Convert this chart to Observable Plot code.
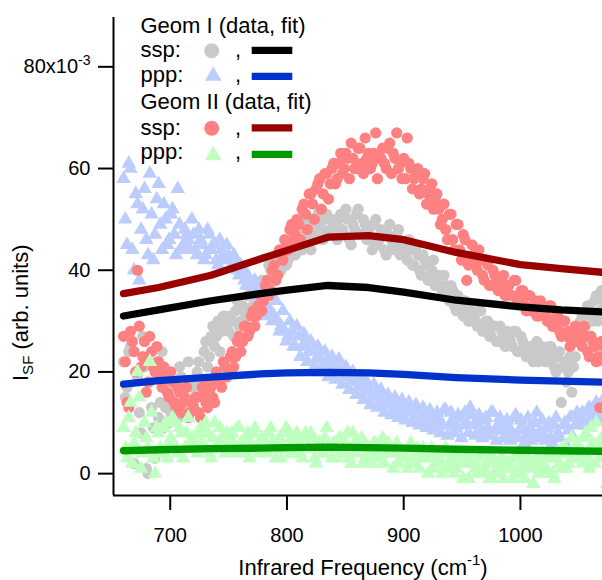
<!DOCTYPE html>
<html><head><meta charset="utf-8">
<script src="https://cdn.jsdelivr.net/npm/d3@7"></script>
<script src="https://cdn.jsdelivr.net/npm/@observablehq/plot@0.6"></script>
<style>html,body{margin:0;padding:0;background:#fff}#chart svg{display:block}</style>
</head><body><div id="chart"></div>
<script>
// Infrared frequency grids (cm^-1) of the two interleaved scans
const scanA = {start: 660, step: 3, count: 140};
const scanB = {start: 661.5, step: 3, count: 140};

// Geom I ssp data (x10^-3), scan A and scan B
const geom1sspA = [
 22,17,25,2,19,8,21,0,13,3,
 11,24,13,10,15,12,21,14,17,13,
 14,20,18,24,21,27,25,30,28,31,
 28,30,32,29,33,31,35,33,37,35,
 38,36,40,39,42,40,44,42,45,43,
 46,44,48,46,50,47,49,46,51,48,
 49,46,51,47,50,45,48,52,47,49,
 48,44,50,46,47,43,49,45,47,43,
 45,42,44,41,43,39,42,38,40,37,
 39,36,37,34,36,32,34,31,33,30,
 31,29,32,28,30,27,29,26,28,25,
 27,25,28,24,26,23,25,22,26,23,
 24,22,25,21,23,14,22,20,16,23,
 27,31,29,33,30,35,32,34,31,33];
const geom1sspB = [
 15,24,5,20,12,27,1,18,9,22,
 14,9,18,12,16,11,19,15,22,17,
 17,22,16,26,23,29,27,24,31,29,
 31,27,34,30,32,35,32,36,34,38,
 36,41,38,42,41,44,41,46,44,47,
 45,49,47,44,49,51,48,50,47,50,
 47,50,48,52,46,49,51,47,50,46,
 46,49,45,48,44,47,46,44,48,45,
 43,46,41,44,40,43,41,39,42,39,
 37,39,35,37,33,35,32,34,30,32,
 30,32,28,30,27,29,26,29,27,28,
 26,28,24,27,24,25,23,24,22,25,
 22,25,23,20,24,21,18,23,21,26,
 30,28,33,31,34,30,36,33,35,32];
// Geom I ppp data
const geom1pppA = [
 58,45,60,40,53,48,56,43,51,47,
 57,44,50,46,52,43,49,45,47,44,
 47,43,46,42,48,44,45,41,44,42,
 43,41,42,39,40,37,38,36,37,34,
 35,33,32,31,30,29,28,27,28,25,
 27,25,25.5,24,24,22.5,23,21.5,22,20.5,
 21.5,20,20.5,19,19.5,18,18.5,17,17.5,16,
 16.5,15,15.5,14,15,13.5,14,12.5,14,12.5,
 13,12,12.5,11,12.5,11,12,10.5,11.5,10,
 11,9.5,12.5,9.5,10.5,9,11,9.5,10,13,
 9.5,10,8.5,10.5,9,12,8.5,9.5,8.5,10,
 9,8,11.5,8.5,9,7.5,9,8,12,8.5,
 8,9,7,9.5,8,4.5,10,8.5,11,9.5,
 10,12,9.5,13,11,14,10.5,13,12,15];
const geom1pppB = [
 50,61,44,55,38,52,46,59,42,54,
 49,53,45,51,47,56,44,48,46,50,
 44,48,45,43,47,45,42,46,43,45,
 42,43,40,41,38,39,37,38,35,36,
 31,36,30,34,28,32,26,30,25,29,
 23,27.5,22,26,21,25,20,24,19,23,
 18.5,22.5,17.5,21,16.5,20,15.5,19,14.5,18,
 13.5,17.5,13,16.5,12,15.5,11.5,15,11,14.5,
 10.5,14,10,13.5,9.5,13,9,12.5,8.5,12,
 8,12.5,7.5,12,8,11.5,7,12,8,11.5,
 7.5,11.5,7,11,7.5,12,6.5,11,7,10.5,
 6.5,11,7,10.5,6,11,6.5,10,7,10.5,
 6.5,10,6,11,7,9.5,5.5,11,7,12,
 11,10,12.5,11,13,12,14,11.5,13,12];
// Geom II ssp data
const geom2sspA = [
 27,14,28,24,40,21,26,18,24,20,
 22,17,19,15,18,13,16,14,17,12,
 13,15,11,16,13,17,14,19,17,21,
 20,24,23,27,26,29,28,32,31,35,
 34,38,36,41,39,43,46,44,49,47,
 49,52,51,55,53,56,58,55,59,57,
 61,58,63,60,62,65,60,64,61,66,
 63,61,67,62,64,60,65,63,67,61,
 62,66,60,58,60,56,59,55,57,54,
 52,50,48,51,46,49,44,47,38,42,
 43,40,42,38,41,37,39,36,38,35,
 37,35,38,34,36,32,35,33,31,34,
 32,30,33,29,31,27,30,28,26,29,
 28,25,27,23,26,22,13,25,24,21];
const geom2sspB = [
 22,13,26,20,29,23,16,27,21,25,
 19,21,16,20,14,17,12,15,11,14,
 15,12,17,14,18,15,20,18,22,19,
 23,21,26,24,29,27,31,29,33,32,
 37,35,40,38,44,42,45,48,46,50,
 46,53,48,55,50,57,52,59,54,60,
 57,61,59,63,58,62,60,64,59,62,
 60,63,58,62,61,64,59,62,60,58,
 58,61,56,59,55,58,53,56,52,55,
 49,53,46,51,44,49,42,46,41,45,
 41,44,39,42,37,40,38,36,39,37,
 35,38,34,36,33,35,32,34,31,33,
 31,33,29,31,28,30,27,25,28,26,
 26,29,24,27,25,23,26,22,25,20];
// Geom II ppp data
const geom2pppA = [
 9,3,14,6,20,1,10,5,12,0,
 8,4,10,6,11,5,9,3,8,6,
 7,4,9,5,8,3,10,6,7,4,
 6,8,4,9,5,7,3,8,5,6,
 7,4,9,5,6,3,8,5,7,4,
 6,3,8,5,7,2,6,4,9,5,
 6,3,7,4,8,2,6,5,7,3,
 5,2,6,3,7,4,5,1,6,3,
 4,1,6,2,5,3,4,0,5,2,
 3,0,5,2,4,1,3,-1,4,2,
 2,0,4,1,3,-1,2,0,3,1,
 2,-1,3,0,4,1,2,-2,3,1,
 2,0,3,-1,4,1,5,2,7,3,
 5,2,8,1,6,10,3,7,-2,5];
const geom2pppB = [
 5,11,2,8,15,4,7,22,3,9,
 5,9,3,7,10,4,8,5,11,7,
 5,8,6,10,4,7,5,9,6,8,
 7,5,9,6,4,8,6,9,4,7,
 5,8,6,3,7,5,9,4,6,8,
 4,7,5,8,3,6,4,7,5,3,
 5,7,4,6,3,8,4,6,2,5,
 4,6,3,5,2,6,4,5,2,4,
 3,5,2,4,1,5,3,4,1,3,
 2,4,1,3,0,4,2,3,-1,3,
 1,3,0,2,-1,3,1,2,-1,2,
 1,3,0,2,-1,3,1,2,0,4,
 1,3,0,4,2,5,1,4,3,6,
 4,7,3,9,2,6,4,8,5,3];

// Fits
const fitFreq     = [660, 690, 735, 777, 800, 835, 870, 900, 945, 1000, 1035, 1070, 1085];
const fitGeom1ssp = [31.0,32.2,34.0,35.4,36.1,37.0,36.6,35.7,34.1,32.8,32.2,31.8,31.6];
const fitGeom1ppp = [17.6,18.3,19.0,19.6,19.8,19.9,19.8,19.5,18.9,18.4,18.2,18.0,17.9];
const fitGeom2ssp = [35.4,36.6,39.0,42.2,43.9,46.5,46.8,46.0,43.5,41.1,40.3,39.6,39.4];
const fitGeom2ppp = [4.5,4.7,4.9,5.0,5.1,5.2,5.1,5.0,4.8,4.6,4.5,4.4,4.4];

const xTicks = [700, 800, 900, 1000];
const yTicks = [0, 20, 40, 60, 80];

const C = {g1ssp:"#c9c9c9", g1ppp:"#bccdfd", g2ssp:"#ff8080", g2ppp:"#bfffbf",
           f1ssp:"#000000", f1ppp:"#0033cc", f2ssp:"#990000", f2ppp:"#009900"};

const grid = s => d3.range(s.count).map(i => s.start + s.step * i);
const fA = grid(scanA), fB = grid(scanB);
const pts = (a, b) => a.map((v, i) => ({x: fA[i], y: v})).concat(b.map((v, i) => ({x: fB[i], y: v})));
const fit = arr => arr.map((v, i) => ({x: fitFreq[i], y: v}));

const xDom = [651.4, 1070.3], yDom = [-4.3, 89.7];
const FONT = "'Liberation Sans', Arial, Helvetica, sans-serif";

const chart = Plot.plot({
  width: 602, height: 580,
  marginTop: 17, marginBottom: 85, marginLeft: 113, marginRight: 0,
  style: {fontFamily: FONT, fontSize: "20px", color: "#000", background: "#fff"},
  x: {domain: xDom},
  y: {domain: yDom},
  marks: [
    Plot.dot(pts(geom1sspA, geom1sspB), {x: "x", y: "y", r: 5.6, fill: C.g1ssp, clip: true}),
    Plot.dot(pts(geom1pppA, geom1pppB), {x: "x", y: "y", r: 5.4, symbol: "triangle", fill: C.g1ppp, clip: true}),
    Plot.dot(pts(geom2sspA, geom2sspB), {x: "x", y: "y", r: 5.6, fill: C.g2ssp, clip: true}),
    Plot.dot(pts(geom2pppA, geom2pppB), {x: "x", y: "y", r: 5.4, symbol: "triangle", fill: C.g2ppp, clip: true}),
    Plot.line(fit(fitGeom1ssp), {x: "x", y: "y", stroke: C.f1ssp, strokeWidth: 7.3, clip: true}),
    Plot.line(fit(fitGeom1ppp), {x: "x", y: "y", stroke: C.f1ppp, strokeWidth: 7.3, clip: true}),
    Plot.line(fit(fitGeom2ssp), {x: "x", y: "y", stroke: C.f2ssp, strokeWidth: 7.3, clip: true}),
    Plot.line(fit(fitGeom2ppp), {x: "x", y: "y", stroke: C.f2ppp, strokeWidth: 7.3, clip: true}),
    Plot.ruleX([xDom[0]], {stroke: "#000", strokeWidth: 2}),
    Plot.ruleY([yDom[0]], {stroke: "#000", strokeWidth: 2}),
    Plot.axisX({ticks: xTicks, tickSize: 15, tickPadding: 17, strokeWidth: 2, label: null, tickFormat: d => String(d)}),
    Plot.axisY({ticks: yTicks, tickSize: 15, tickPadding: 8, strokeWidth: 2, label: null,
                tickFormat: d => d === 80 ? "80x10" : String(d)})
  ]
});
document.getElementById("chart").appendChild(chart);

const svg = d3.select(chart);
// superscript on the top y tick
svg.selectAll("text").filter(function(){ return this.textContent === "80x10"; })
  .append("tspan").attr("dy", "-0.62em").attr("font-size", "14px").text("-3");

// axis titles
const yl = svg.append("text").attr("font-family", FONT).attr("font-size", 22).attr("fill", "#000")
  .attr("text-anchor", "start").attr("transform", "translate(28,381) rotate(-90)");
yl.append("tspan").text("I");
yl.append("tspan").attr("font-size", 15).attr("dy", 5).text("SF");
yl.append("tspan").attr("dy", -5).text(" (arb. units)");

const xl = svg.append("text").attr("font-family", FONT).attr("font-size", 22).attr("fill", "#000")
  .attr("x", 363).attr("y", 575).attr("text-anchor", "middle");
xl.append("tspan").text("Infrared Frequency (cm");
xl.append("tspan").attr("font-size", 15).attr("dy", -10).text("-1");
xl.append("tspan").attr("dy", 10).text(")");

// legend
const legendRows = [
  {base: 33.3, label: "Geom I (data, fit)"},
  {base: 57.3, label: "ssp:", sym: "circle", fill: C.g1ssp, line: C.f1ssp, sy: 50.7, ly: 50.3},
  {base: 82.3, label: "ppp:", sym: "tri", fill: C.g1ppp, line: C.f1ppp, sy: 73.8, ly: 76.3},
  {base: 109.3, label: "Geom II (data, fit)"},
  {base: 135, label: "ssp:", sym: "circle", fill: C.g2ssp, line: C.f2ssp, sy: 128.3, ly: 127.8},
  {base: 159.3, label: "ppp:", sym: "tri", fill: C.g2ppp, line: C.f2ppp, sy: 153.2, ly: 154.3}
];
const lg = svg.append("g").attr("font-family", FONT).attr("font-size", 22).attr("fill", "#000")
  .attr("text-anchor", "start");
legendRows.forEach(r => {
  lg.append("text").attr("x", 140.5).attr("y", r.base).text(r.label);
  if (!r.sym) return;
  if (r.sym === "circle") {
    lg.append("circle").attr("cx", 211.7).attr("cy", r.sy).attr("r", 7.5).attr("fill", r.fill);
  } else {
    const cx = 213.3, cy = r.sy;
    lg.append("path").attr("fill", r.fill)
      .attr("d", `M${cx},${cy-7.4}L${cx-8.4},${cy+7}L${cx+8.4},${cy+7}Z`);
  }
  lg.append("text").attr("x", 235).attr("y", r.base).text(",");
  lg.append("line").attr("x1", 251.7).attr("x2", 292.3).attr("y1", r.ly).attr("y2", r.ly)
    .attr("stroke", r.line).attr("stroke-width", 7.3);
});
</script>
</body></html>
